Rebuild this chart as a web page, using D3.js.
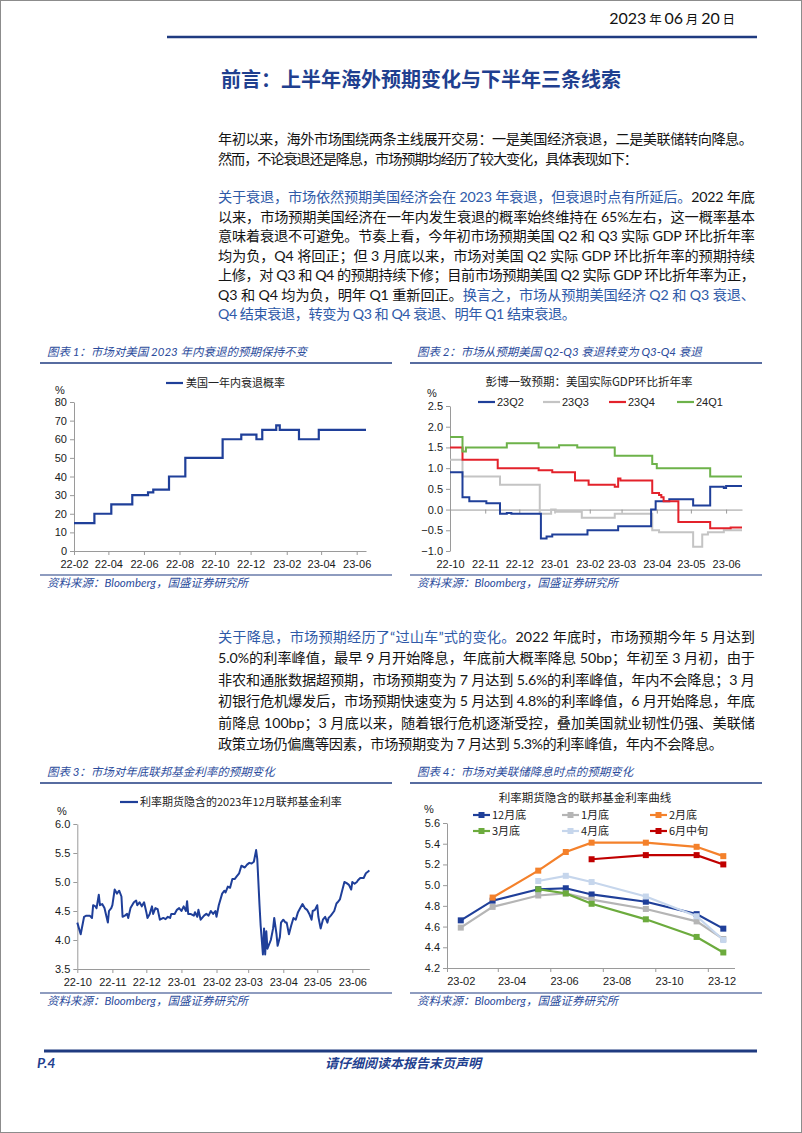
<!DOCTYPE html>
<html><head><meta charset="utf-8">
<script src="https://cdn.jsdelivr.net/npm/d3@7"></script>
<style>
html,body{margin:0;padding:0;background:#fff;}
svg{display:block;}
</style></head><body>
<svg id="page" width="802" height="1133"></svg>
<script>
// ---------------- DATA ----------------
// Chart 1: probability of US recession within one year (step series)
const recessionDates = ["2022-02-01","2022-03-08","2022-04-06","2022-05-12","2022-06-08","2022-06-17","2022-07-14","2022-08-11","2022-10-14","2022-11-15","2022-12-11","2022-12-21","2023-01-14","2023-01-20","2023-02-22","2023-03-28","2023-06-17"];
const recessionProb  = [15,20,25,30,31.5,33,40,50,60,62.5,60,65,67.5,65,60,65,65];
const chart1XTicks = ["22-02","22-04","22-06","22-08","22-10","22-12","23-02","23-04","23-06"];
const chart1YTicks = [0,10,20,30,40,50,60,70,80];

// Chart 2: Bloomberg consensus US real GDP QoQ saar forecasts
const gdpSeriesNames = ["23Q2","23Q3","23Q4","24Q1"];
const gdp23Q2 = [["2022-10-01",0.9],["2022-10-12",0.3],["2022-10-18",0.2],["2022-11-02",0.15],["2022-11-14",-0.1],["2022-11-20",-0.08],["2022-11-24",-0.1],["2022-12-20",-0.7],["2022-12-25",-0.65],["2022-12-30",-0.6],["2023-01-30",-0.5],["2023-02-26",-0.4],["2023-03-27",0.0],["2023-03-31",0.2],["2023-04-12",0.25],["2023-05-03",0.1],["2023-05-18",0.55],["2023-05-30",0.52],["2023-06-01",0.57],["2023-06-15",0.57]];
const gdp23Q3 = [["2022-10-01",1.2],["2022-10-12",0.8],["2022-11-14",0.6],["2022-12-19",-0.1],["2022-12-29",0.0],["2023-01-02",-0.05],["2023-01-25",-0.2],["2023-02-23",-0.1],["2023-03-28",-0.5],["2023-04-03",-0.55],["2023-05-03",-0.9],["2023-05-11",-0.6],["2023-05-16",-0.55],["2023-05-30",-0.5],["2023-06-15",-0.5]];
const gdp23Q4 = [["2022-10-01",1.5],["2022-10-12",1.2],["2022-11-12",1.0],["2022-12-18",0.95],["2022-12-30",0.9],["2023-01-19",0.7],["2023-01-31",0.6],["2023-02-23",0.55],["2023-02-26",0.75],["2023-02-28",0.7],["2023-03-28",0.4],["2023-04-03",0.35],["2023-04-05",0.3],["2023-04-07",0.2],["2023-04-20",-0.3],["2023-05-18",-0.45],["2023-06-05",-0.43],["2023-06-15",-0.43]];
const gdp24Q1 = [["2022-10-01",1.75],["2022-10-12",1.4],["2022-10-15",1.5],["2022-11-20",1.6],["2022-12-18",1.5],["2023-01-05",1.55],["2023-01-21",1.5],["2023-02-23",1.3],["2023-03-28",1.1],["2023-04-01",1.0],["2023-05-18",0.8],["2023-06-15",0.8]];
const chart2XTicks = ["22-10","22-11","22-12","23-01","23-02","23-03","23-04","23-05","23-06"];
const chart2YTicks = [-1.0,-0.5,0.0,0.5,1.0,1.5,2.0,2.5];

// Chart 3: implied Dec-2023 fed funds rate from futures
const ffDates = ["2022-10-01","2022-10-04","2022-10-07","2022-10-09","2022-10-12","2022-10-14","2022-10-15","2022-10-17","2022-10-18","2022-10-20","2022-10-21","2022-10-23","2022-10-25","2022-10-28","2022-10-29","2022-10-31",
"2022-11-01","2022-11-03","2022-11-05","2022-11-07","2022-11-09","2022-11-10","2022-11-12","2022-11-14","2022-11-15","2022-11-17","2022-11-20","2022-11-22","2022-11-23","2022-11-25","2022-11-27","2022-11-29",
"2022-12-01","2022-12-02","2022-12-04","2022-12-06","2022-12-07","2022-12-09","2022-12-11","2022-12-13","2022-12-16","2022-12-18","2022-12-20","2022-12-22","2022-12-23","2022-12-26","2022-12-28","2022-12-30",
"2023-01-01","2023-01-03","2023-01-05","2023-01-06","2023-01-07","2023-01-09","2023-01-12","2023-01-13","2023-01-15","2023-01-16","2023-01-18","2023-01-21","2023-01-23","2023-01-25","2023-01-27","2023-01-29","2023-01-31",
"2023-02-01","2023-02-03","2023-02-06","2023-02-08","2023-02-09","2023-02-11","2023-02-13","2023-02-15","2023-02-17","2023-02-19","2023-02-21","2023-02-23","2023-02-26","2023-02-28",
"2023-03-02","2023-03-04","2023-03-06","2023-03-08","2023-03-09","2023-03-11","2023-03-12","2023-03-14","2023-03-15","2023-03-16","2023-03-17","2023-03-18","2023-03-21","2023-03-23","2023-03-24","2023-03-26","2023-03-27","2023-03-29","2023-03-30",
"2023-04-01","2023-04-03","2023-04-04","2023-04-06","2023-04-08","2023-04-10","2023-04-12","2023-04-14","2023-04-16","2023-04-18","2023-04-20","2023-04-22","2023-04-24","2023-04-26","2023-04-27","2023-04-29",
"2023-05-01","2023-05-02","2023-05-04","2023-05-06","2023-05-08","2023-05-10","2023-05-11","2023-05-13","2023-05-16","2023-05-18","2023-05-19","2023-05-21","2023-05-23","2023-05-25","2023-05-27","2023-05-29","2023-05-31",
"2023-06-01","2023-06-03","2023-06-05","2023-06-06","2023-06-08","2023-06-11","2023-06-13","2023-06-15","2023-06-16"];
const ffRate = [4.30,4.10,4.40,4.42,4.42,4.38,4.60,4.58,4.55,4.78,4.60,4.62,4.55,4.30,4.50,4.55,
4.60,4.87,4.80,4.85,4.75,4.40,4.42,4.45,4.38,4.55,4.65,4.68,4.60,4.65,4.58,4.65,
4.48,4.38,4.45,4.58,4.45,4.55,4.53,4.35,4.38,4.36,4.40,4.38,4.45,4.45,4.52,4.55,
4.50,4.58,4.50,4.67,4.45,4.45,4.42,4.48,4.40,4.52,4.35,4.42,4.45,4.42,4.50,4.45,4.50,
4.40,4.60,4.80,4.85,4.82,4.92,4.90,5.05,5.05,5.10,5.15,5.28,5.25,5.30,
5.33,5.32,5.35,5.55,5.40,4.60,4.25,3.75,4.20,3.75,4.15,3.85,4.00,4.20,4.38,4.10,3.90,4.05,4.30,
4.35,4.30,4.30,4.10,4.25,4.38,4.35,4.48,4.55,4.62,4.55,4.52,4.45,4.35,4.50,4.52,
4.60,4.40,4.20,4.35,4.40,4.30,4.38,4.42,4.50,4.63,4.65,4.70,4.85,5.00,4.98,4.95,4.87,
5.00,4.97,5.00,5.03,5.07,5.07,5.15,5.18,5.20];
const chart3XTicks = ["22-10","22-11","22-12","23-01","23-02","23-03","23-04","23-05","23-06"];
const chart3YTicks = [3.5,4.0,4.5,5.0,5.5,6.0];

// Chart 4: implied fed funds curve at different dates
const meetingDates = ["2023-02-01","2023-03-10","2023-05-02","2023-06-03","2023-07-03","2023-09-04","2023-11-02","2023-12-03"];
const curveNames = ["12月底","1月底","2月底","3月底","4月底","6月中旬"];
const curveDec = [4.66,4.85,4.96,4.97,4.91,4.84,4.72,4.58];
const curveJan = [4.59,4.79,4.90,4.92,4.86,4.77,4.65,4.48];
const curveFeb = [null,4.88,5.14,5.32,5.41,5.41,5.37,5.28];
const curveMar = [null,null,4.96,4.92,4.82,4.67,4.50,4.35];
const curveApr = [null,null,5.04,5.09,5.03,4.89,4.70,4.47];
const curveJun = [null,null,null,null,5.25,5.29,5.29,5.20];
const chart4XTicks = ["23-02","23-04","23-06","23-08","23-10","23-12"];
const chart4YTicks = [4.2,4.4,4.6,4.8,5.0,5.2,5.4,5.6];

// ---------------- DRAWING ----------------
const svg = d3.select("#page");
const NAVY = "#1f3b80", BLUE_TXT = "#2f5aa8", CAP = "#2c4c9c";
const CJK = "'Noto Sans CJK SC', sans-serif";
const MIX = "Lato, 'Noto Sans CJK SC', sans-serif";
const AX = "'Liberation Sans', Arial, 'Noto Sans CJK SC', sans-serif";
const pDay = d3.timeParse("%Y-%m-%d");
const pMon = d3.timeParse("%y-%m");

svg.append("rect").attr("x",0.5).attr("y",0.5).attr("width",801).attr("height",1132)
  .attr("fill","none").attr("stroke","#8c8c8c");

// header date
const dt = svg.append("text").attr("x",735).attr("y",24).attr("text-anchor","end").attr("fill","#111");
[["2023",MIX,16],[" 年 ",CJK,12.5],["06",MIX,16],[" 月 ",CJK,12.5],["20",MIX,16],[" 日",CJK,12.5]]
  .forEach(s=>dt.append("tspan").text(s[0]).attr("font-family",s[1]).attr("font-size",s[2]));
svg.append("line").attr("x1",167).attr("x2",757).attr("y1",37).attr("y2",37).attr("stroke",NAVY).attr("stroke-width",2.5);
svg.append("text").attr("x",421).attr("y",87).attr("text-anchor","middle").attr("font-family",CJK)
  .attr("font-size",20).attr("font-weight","bold").attr("fill","#1f3f8f").text("前言：上半年海外预期变化与下半年三条线索");

// paragraphs
function para(lines, y0, lh){
  lines.forEach((ln,i)=>{
    const t = svg.append("text").attr("x",218).attr("y",y0+i*lh+5).attr("font-family",MIX).attr("font-size",14.2);
    ln.segs.forEach(s=>t.append("tspan").text(s[0]).attr("fill", s[1] ? BLUE_TXT : "#141414"));
    t.attr("textLength", ln.w).attr("lengthAdjust","spacing");
  });
}
const B=1, K=0;
para([
 {segs:[["年初以来，海外市场围绕两条主线展开交易：一是美国经济衰退，二是美联储转向降息。",K]],w:535},
 {segs:[["然而，不论衰退还是降息，市场预期均经历了较大变化，具体表现如下：",K]],w:420}
],139,19.5);
para([
 {segs:[["关于衰退，市场依然预期美国经济会在 2023 年衰退，但衰退时点有所延后。",B],["2022 年底",K]],w:537},
 {segs:[["以来，市场预期美国经济在一年内发生衰退的概率始终维持在 65%左右，这一概率基本",K]],w:537},
 {segs:[["意味着衰退不可避免。节奏上看，今年初市场预期美国 Q2 和 Q3 实际 GDP 环比折年率",K]],w:537},
 {segs:[["均为负，Q4 将回正；但 3 月底以来，市场对美国 Q2 实际 GDP 环比折年率的预期持续",K]],w:537},
 {segs:[["上修，对 Q3 和 Q4 的预期持续下修；目前市场预期美国 Q2 实际 GDP 环比折年率为正，",K]],w:537},
 {segs:[["Q3 和 Q4 均为负，明年 Q1 重新回正。",K],["换言之，市场从预期美国经济 Q2 和 Q3 衰退、",B]],w:537},
 {segs:[["Q4 结束衰退，转变为 Q3 和 Q4 衰退、明年 Q1 结束衰退。",B]],w:358}
],197,19.5);
para([
 {segs:[["关于降息，市场预期经历了“过山车”式的变化。",B],["2022 年底时，市场预期今年 5 月达到",K]],w:537},
 {segs:[["5.0%的利率峰值，最早 9 月开始降息，年底前大概率降息 50bp；年初至 3 月初，由于",K]],w:537},
 {segs:[["非农和通胀数据超预期，市场预期变为 7 月达到 5.6%的利率峰值，年内不会降息；3 月",K]],w:537},
 {segs:[["初银行危机爆发后，市场预期快速变为 5 月达到 4.8%的利率峰值，6 月开始降息，年底",K]],w:537},
 {segs:[["前降息 100bp；3 月底以来，随着银行危机逐渐受控，叠加美国就业韧性仍强、美联储",K]],w:537},
 {segs:[["政策立场仍偏鹰等因素，市场预期变为 7 月达到 5.3%的利率峰值，年内不会降息。",K]],w:505}
],637,21.4);

// chart frame: caption, underline, source
function frame(x0,x1,yCap,yUnder,ySrcLine,caption){
  svg.append("text").attr("x",x0+7).attr("y",yCap+4).attr("font-family",MIX).attr("font-size",11.5)
    .attr("font-style","italic").attr("fill",CAP).text(caption);
  svg.append("line").attr("x1",x0).attr("x2",x1).attr("y1",yUnder).attr("y2",yUnder).attr("stroke",NAVY).attr("stroke-width",1.5);
  svg.append("line").attr("x1",x0).attr("x2",x1).attr("y1",ySrcLine).attr("y2",ySrcLine).attr("stroke",NAVY).attr("stroke-width",1.2);
  svg.append("text").attr("x",x0+7).attr("y",ySrcLine+12).attr("font-family",MIX).attr("font-size",11.5)
    .attr("font-style","italic").attr("fill",CAP).text("资料来源：Bloomberg，国盛证券研究所");
}
function styleAxis(g){
  g.selectAll(".domain").attr("stroke","#9a9a9a");
  g.selectAll(".tick line").attr("stroke","#9a9a9a");
  g.selectAll("text").attr("font-family",AX).attr("font-size",11).attr("fill","#1a1a1a");
}
function pct(x,y){ svg.append("text").attr("x",x).attr("y",y+4).attr("text-anchor","middle").attr("font-family",AX).attr("font-size",11).attr("fill","#1a1a1a").text("%"); }

// ---- Chart 1 ----
frame(40,392,352,363,575,"图表 1：市场对美国 2023 年内衰退的预期保持不变");
{
  const x = d3.scaleTime().domain([pDay(recessionDates[0]), pDay(recessionDates[recessionDates.length-1])]).range([74,366]);
  const y = d3.scaleLinear().domain([0,80]).range([551,402]);
  const gy = svg.append("g").attr("transform","translate(74,0)")
    .call(d3.axisLeft(y).tickValues(chart1YTicks).tickSize(4).tickPadding(3).tickSizeOuter(0));
  styleAxis(gy);
  const gx = svg.append("g").attr("transform","translate(0,551)")
    .call(d3.axisBottom(x).tickValues(chart1XTicks.map(pMon)).tickFormat(d3.timeFormat("%y-%m")).tickSize(4).tickPadding(5).tickSizeOuter(0));
  styleAxis(gx);
  const pts = recessionDates.map((d,i)=>({d:pDay(d),v:recessionProb[i]}));
  svg.append("path").datum(pts).attr("fill","none").attr("stroke","#1f3f99").attr("stroke-width",2.2)
    .attr("d",d3.line().x(p=>x(p.d)).y(p=>y(p.v)).curve(d3.curveStepAfter));
  pct(60,390);
  svg.append("line").attr("x1",166).attr("x2",183).attr("y1",383).attr("y2",383).attr("stroke","#1f3f99").attr("stroke-width",2.2);
  svg.append("text").attr("x",186).attr("y",387).attr("font-family",CJK).attr("font-size",11).attr("fill","#222").text("美国一年内衰退概率");
}

// ---- Chart 2 ----
frame(410,762,352,363,575,"图表 2：市场从预期美国 Q2-Q3 衰退转变为 Q3-Q4 衰退");
{
  const x = d3.scaleTime().domain([pDay("2022-10-01"), pDay("2023-06-15")]).range([450,742]);
  const y = d3.scaleLinear().domain([-1,2.5]).range([551,406]);
  const gy = svg.append("g").attr("transform","translate(450,0)")
    .call(d3.axisLeft(y).tickValues(chart2YTicks).tickFormat(d3.format(".1f")).tickSize(4).tickPadding(3).tickSizeOuter(0));
  styleAxis(gy);
  const g0 = svg.append("g").attr("transform",`translate(0,${y(0)})`)
    .call(d3.axisBottom(x).tickValues(chart2XTicks.map(pMon)).tickFormat("").tickSize(4).tickSizeOuter(0));
  styleAxis(g0);
  const gl = svg.append("g").attr("transform","translate(0,551)")
    .call(d3.axisBottom(x).tickValues(chart2XTicks.map(pMon)).tickFormat(d3.timeFormat("%y-%m")).tickSize(0).tickPadding(9));
  styleAxis(gl); gl.select(".domain").remove();
  const colors = ["#1f3f99","#c4c4c4","#e3222b","#6db24a"];
  const series = [gdp23Q2,gdp23Q3,gdp23Q4,gdp24Q1];
  const line = d3.line().x(p=>x(pDay(p[0]))).y(p=>y(p[1])).curve(d3.curveStepAfter);
  [1,0,2,3].forEach(i=>{
    svg.append("path").datum(series[i]).attr("fill","none").attr("stroke",colors[i]).attr("stroke-width",2).attr("d",line);
  });
  pct(432,393);
  svg.append("text").attr("x",589).attr("y",386).attr("text-anchor","middle").attr("font-family",CJK).attr("font-size",11.5).attr("fill","#222").text("彭博一致预期：美国实际GDP环比折年率");
  const lx = [478,543,609,677];
  gdpSeriesNames.forEach((n,i)=>{
    svg.append("line").attr("x1",lx[i]).attr("x2",lx[i]+17).attr("y1",402).attr("y2",402).attr("stroke",colors[i]).attr("stroke-width",2.2);
    svg.append("text").attr("x",lx[i]+19).attr("y",406).attr("font-family",AX).attr("font-size",11).attr("fill","#222").text(n);
  });
}

// ---- Chart 3 ----
frame(40,392,772,783,993,"图表 3：市场对年底联邦基金利率的预期变化");
{
  const x = d3.scaleTime().domain([pDay("2022-10-01"), pDay("2023-06-16")]).range([77.3,369.3]);
  const y = d3.scaleLinear().domain([3.5,6.0]).range([969,824]);
  const gy = svg.append("g").attr("transform","translate(77.3,0)")
    .call(d3.axisLeft(y).tickValues(chart3YTicks).tickFormat(d3.format(".1f")).tickSize(4).tickPadding(3).tickSizeOuter(0));
  styleAxis(gy);
  const gx = svg.append("g").attr("transform","translate(0,969)")
    .call(d3.axisBottom(x).tickValues(chart3XTicks.map(pMon)).tickFormat(d3.timeFormat("%y-%m")).tickSize(4).tickPadding(5).tickSizeOuter(0));
  styleAxis(gx);
  const pts = ffDates.map((d,i)=>({d:pDay(d),v:ffRate[i]}));
  svg.append("path").datum(pts).attr("fill","none").attr("stroke","#1f3f99").attr("stroke-width",2)
    .attr("stroke-linejoin","round").attr("d",d3.line().x(p=>x(p.d)).y(p=>y(p.v)));
  pct(62,811);
  svg.append("line").attr("x1",120).attr("x2",138).attr("y1",802).attr("y2",802).attr("stroke","#1f3f99").attr("stroke-width",2.2);
  svg.append("text").attr("x",140).attr("y",806).attr("font-family",CJK).attr("font-size",11).attr("fill","#222").text("利率期货隐含的2023年12月联邦基金利率");
}

// ---- Chart 4 ----
frame(410,762,772,783,993,"图表 4：市场对美联储降息时点的预期变化");
{
  const x = d3.scaleTime().domain([pDay("2023-01-16"), pDay("2023-12-16")]).range([447,734.5]);
  const y = d3.scaleLinear().domain([4.2,5.6]).range([968,823]);
  const gy = svg.append("g").attr("transform","translate(447,0)")
    .call(d3.axisLeft(y).tickValues(chart4YTicks).tickFormat(d3.format(".1f")).tickSize(4).tickPadding(3).tickSizeOuter(0));
  styleAxis(gy);
  const minor = chart4XTicks.map(t=>d3.timeDay.offset(pMon(t),-16));
  const gx = svg.append("g").attr("transform","translate(0,968)")
    .call(d3.axisBottom(x).tickValues(minor).tickFormat("").tickSize(4).tickSizeOuter(0));
  styleAxis(gx);
  const gl = svg.append("g").attr("transform","translate(0,968)")
    .call(d3.axisBottom(x).tickValues(chart4XTicks.map(pMon)).tickFormat(d3.timeFormat("%y-%m")).tickSize(0).tickPadding(9));
  styleAxis(gl); gl.select(".domain").remove();
  const colors = ["#1f3f99","#b5b5b5","#f4812b","#6cab3d","#c6d6ec","#c00000"];
  const curves = [curveDec,curveJan,curveFeb,curveMar,curveApr,curveJun];
  const md = meetingDates.map(pDay);
  const line = d3.line().defined(p=>p[1]!=null).x(p=>x(p[0])).y(p=>y(p[1]));
  curves.forEach((c,i)=>{
    const pts = md.map((d,j)=>[d,c[j]]);
    svg.append("path").datum(pts).attr("fill","none").attr("stroke",colors[i]).attr("stroke-width",2.2).attr("d",line);
    svg.selectAll(null).data(pts.filter(p=>p[1]!=null)).enter().append("rect")
      .attr("x",p=>x(p[0])-3).attr("y",p=>y(p[1])-3).attr("width",6).attr("height",6).attr("fill",colors[i]);
  });
  pct(429,809);
  svg.append("text").attr("x",585).attr("y",802).attr("text-anchor","middle").attr("font-family",CJK).attr("font-size",11.5).attr("fill","#222").text("利率期货隐含的联邦基金利率曲线");
  const lx = [473,562,650], ly=[815,831];
  curveNames.forEach((n,i)=>{
    const cx = lx[i%3], cy = ly[Math.floor(i/3)];
    svg.append("line").attr("x1",cx).attr("x2",cx+17).attr("y1",cy).attr("y2",cy).attr("stroke",colors[i]).attr("stroke-width",2.2);
    svg.append("rect").attr("x",cx+5.5).attr("y",cy-3).attr("width",6).attr("height",6).attr("fill",colors[i]);
    svg.append("text").attr("x",cx+19).attr("y",cy+4).attr("font-family",CJK).attr("font-size",11).attr("fill","#222").text(n);
  });
}

// footer
svg.append("line").attr("x1",44).attr("x2",757).attr("y1",1051).attr("y2",1051).attr("stroke",NAVY).attr("stroke-width",3);
svg.append("text").attr("x",37).attr("y",1068).attr("font-family",MIX).attr("font-size",14).attr("font-weight","bold").attr("font-style","italic").attr("fill","#1f3f8f").text("P.4");
svg.append("text").attr("x",403).attr("y",1068).attr("text-anchor","middle").attr("font-family",CJK).attr("font-size",13).attr("font-weight","bold").attr("font-style","italic").attr("fill","#1f3f8f").text("请仔细阅读本报告末页声明");
</script></body></html>
